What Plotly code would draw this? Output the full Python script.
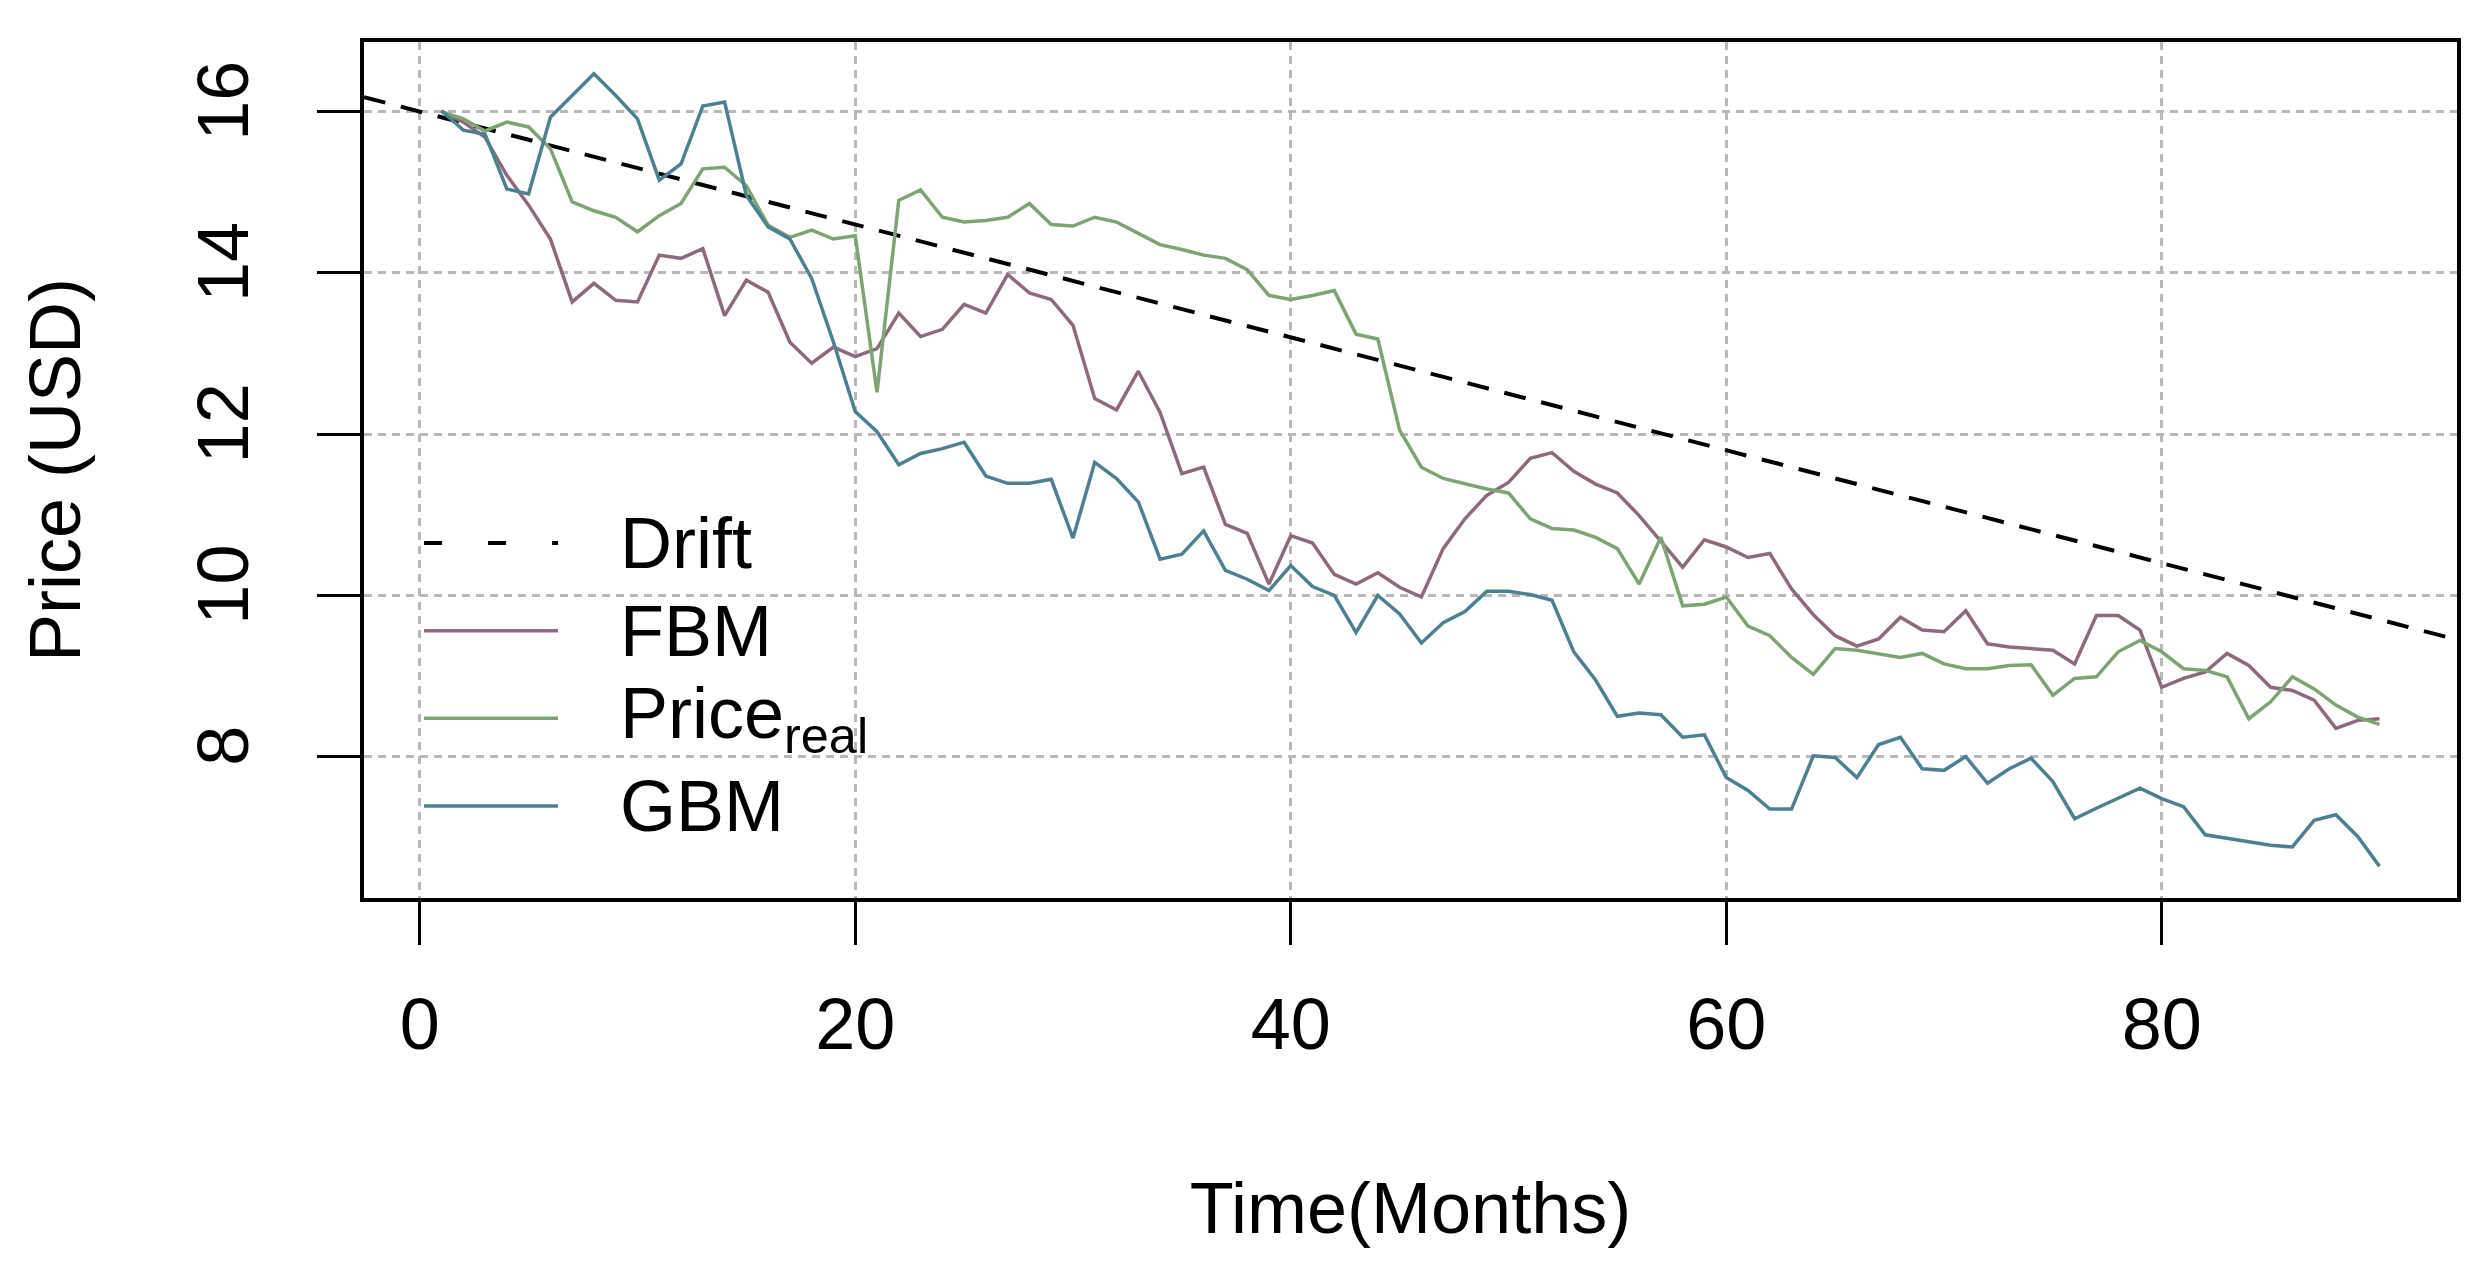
import plotly.graph_objects as go

# ---------------- data ----------------
months = list(range(1, 91))

fbm = [16.00, 15.87, 15.68, 15.21, 14.84, 14.42, 13.64, 13.87, 13.66, 13.64,
       14.22, 14.18, 14.30, 13.47, 13.91, 13.76, 13.14, 12.88, 13.08, 12.96,
       13.06, 13.50, 13.21, 13.30, 13.61, 13.50, 13.98, 13.75, 13.67, 13.35,
       12.44, 12.30, 12.78, 12.27, 11.51, 11.59, 10.88, 10.77, 10.14, 10.74,
       10.65, 10.26, 10.14, 10.28, 10.10, 9.98, 10.58, 10.95, 11.24, 11.40,
       11.70, 11.77, 11.54, 11.38, 11.27, 10.99, 10.67, 10.35, 10.69, 10.60,
       10.47, 10.52, 10.08, 9.76, 9.50, 9.37, 9.46, 9.73, 9.57, 9.55,
       9.81, 9.40, 9.36, 9.34, 9.32, 9.15, 9.75, 9.75, 9.57, 8.86,
       8.97, 9.05, 9.28, 9.13, 8.86, 8.82, 8.70, 8.35, 8.45, 8.47]

price_real = [16.00, 15.91, 15.76, 15.87, 15.81, 15.54, 14.88, 14.77, 14.69, 14.51,
              14.71, 14.86, 15.29, 15.31, 15.08, 14.59, 14.44, 14.53, 14.42, 14.46,
              12.52, 14.90, 15.03, 14.69, 14.63, 14.65, 14.69, 14.86, 14.60, 14.58,
              14.69, 14.63, 14.49, 14.35, 14.29, 14.22, 14.18, 14.04, 13.72, 13.67,
              13.72, 13.78, 13.24, 13.18, 12.05, 11.59, 11.45, 11.38, 11.32, 11.27,
              10.95, 10.83, 10.81, 10.72, 10.58, 10.14, 10.72, 9.87, 9.89, 9.98,
              9.62, 9.50, 9.23, 9.02, 9.34, 9.32, 9.27, 9.23, 9.28, 9.15,
              9.09, 9.09, 9.13, 9.14, 8.76, 8.97, 8.99, 9.30, 9.44, 9.30,
              9.09, 9.07, 8.99, 8.47, 8.68, 8.99, 8.84, 8.64, 8.49, 8.40]

gbm = [16.01, 15.77, 15.72, 15.04, 14.98, 15.93, 16.20, 16.47, 16.20, 15.91,
       15.15, 15.35, 16.07, 16.12, 14.96, 14.57, 14.42, 13.93, 13.14, 12.28,
       12.03, 11.62, 11.76, 11.82, 11.90, 11.48, 11.39, 11.39, 11.44, 10.71,
       11.65, 11.45, 11.16, 10.45, 10.51, 10.80, 10.31, 10.20, 10.06, 10.37,
       10.11, 10.00, 9.54, 10.00, 9.77, 9.41, 9.66, 9.80, 10.05, 10.05,
       10.01, 9.94, 9.30, 8.95, 8.50, 8.54, 8.52, 8.24, 8.27, 7.74,
       7.58, 7.35, 7.35, 8.01, 7.99, 7.74, 8.15, 8.24, 7.85, 7.83,
       8.00, 7.67, 7.85, 7.98, 7.69, 7.23, 7.36, 7.48, 7.61, 7.48,
       7.38, 7.03, 6.99, 6.95, 6.90, 6.88, 7.21, 7.28, 7.01, 6.64]

drift_start = 16.0      # price at t = 0
drift_rate = -0.07      # USD per month

x_ticks = [0, 20, 40, 60, 80]
y_ticks = [8, 10, 12, 14, 16]

legend_labels = ["Drift", "FBM", "Price<sub>real</sub>", "GBM"]

# ---------------- styling ----------------
FONT = "Liberation Sans, Arial, sans-serif"
C_FBM = "#8e6a7e"
C_REAL = "#7ea474"
C_GBM = "#4d8191"
C_DRIFT = "black"

x_range = [months[0] - 0.04 * (months[-1] - months[0]),
           months[-1] + 0.04 * (months[-1] - months[0])]
all_y = fbm + price_real + gbm
y_span = max(all_y) - min(all_y)
y_range = [min(all_y) - 0.04 * y_span, max(all_y) + 0.04 * y_span]

drift_x = x_range
drift_y = [drift_start + drift_rate * x for x in drift_x]

fig = go.Figure()
fig.add_trace(go.Scatter(x=drift_x, y=drift_y, mode="lines", name="Drift",
                         line=dict(color=C_DRIFT, width=4, dash="22px,16px")))
fig.add_trace(go.Scatter(x=months, y=fbm, mode="lines", name="FBM",
                         line=dict(color=C_FBM, width=3.5)))
fig.add_trace(go.Scatter(x=months, y=price_real, mode="lines", name="Price real",
                         line=dict(color=C_REAL, width=3.5)))
fig.add_trace(go.Scatter(x=months, y=gbm, mode="lines", name="GBM",
                         line=dict(color=C_GBM, width=3.5)))

# ---------------- manual legend (R style, no box) ----------------
legend_colors = [C_DRIFT, C_FBM, C_REAL, C_GBM]
legend_dash = ["18px,46px", "solid", "solid", "solid"]
leg_top = 0.4147
leg_step = 0.1024
shapes = []
annotations = []
for i, (lab, col, dsh) in enumerate(zip(legend_labels, legend_colors, legend_dash)):
    yy = leg_top - i * leg_step
    shapes.append(dict(type="line", xref="paper", yref="paper",
                       x0=0.0287, x1=0.0927, y0=yy, y1=yy,
                       line=dict(color=col, width=4 if i == 0 else 3.5, dash=dsh)))
    annotations.append(dict(xref="paper", yref="paper", x=0.1215, y=yy,
                            xanchor="left", yanchor="middle", showarrow=False,
                            text=lab, font=dict(family=FONT, size=72, color="black")))

axis_common = dict(
    showline=True, linecolor="black", linewidth=4, mirror=True,
    ticks="outside", ticklen=43, tickwidth=3, tickcolor="black",
    showgrid=True, gridcolor="#b8b8b8", gridwidth=3, griddash="8px,6px",
    zeroline=False,
    tickfont=dict(family=FONT, size=72, color="black"),
)

fig.update_layout(
    width=2480, height=1280,
    margin=dict(l=356, r=31, t=34, b=390),
    paper_bgcolor="white", plot_bgcolor="white",
    showlegend=False,
    font=dict(family=FONT, size=72, color="black"),
    shapes=shapes, annotations=annotations,
    xaxis=dict(range=x_range, tickvals=x_ticks, ticklabelstandoff=18,
               title=dict(text="Time(Months)", font=dict(family=FONT, size=72),
                          standoff=120),
               **axis_common),
    yaxis=dict(range=y_range, tickvals=y_ticks, tickangle=-90, ticklabelstandoff=40,
               title=dict(text="Price (USD)", font=dict(family=FONT, size=72),
                          standoff=80),
               **axis_common),
)

fig.write_html("out.html")
